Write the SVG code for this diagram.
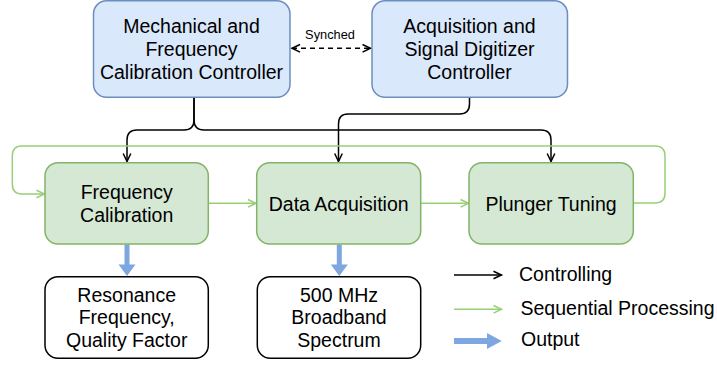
<svg xmlns="http://www.w3.org/2000/svg" width="717" height="367" viewBox="0 0 717 367">
<defs>
<style>
.t{font-family:"Liberation Sans",Arial,Helvetica,sans-serif;font-size:19.5px;fill:#000;text-anchor:middle}
.tl{font-family:"Liberation Sans",Arial,Helvetica,sans-serif;font-size:19.5px;fill:#000}
.blue{fill:#dae8fc;stroke:#6c8ebf;stroke-width:1.5}
.green{fill:#d5e8d4;stroke:#82b366;stroke-width:1.5}
.white{fill:#fff;stroke:#000;stroke-width:1.5}
.ctl{fill:none;stroke:#000;stroke-width:1.5}
.seq{fill:none;stroke:#97d077;stroke-width:1.5}
.out{fill:#7ea6e0;stroke:none}
</style>
<marker id="ab" markerUnits="userSpaceOnUse" markerWidth="14" markerHeight="14" viewBox="-11 -7 14 14" refX="0" refY="0" orient="auto-start-reverse" overflow="visible">
<path d="M-8,-3.8 L0,0 L-8,3.8" fill="none" stroke="#000" stroke-width="1.5"/>
</marker>
<marker id="ag" markerUnits="userSpaceOnUse" markerWidth="14" markerHeight="14" viewBox="-11 -7 14 14" refX="0" refY="0" orient="auto" overflow="visible">
<path d="M-8,-3.8 L0,0 L-8,3.8" fill="none" stroke="#97d077" stroke-width="1.5"/>
</marker>
</defs>

<g id="connectors">
<!-- synched -->
<line x1="292" y1="48.3" x2="370.5" y2="48.3" class="ctl" stroke-dasharray="5 4" marker-start="url(#ab)" marker-end="url(#ab)"/>
<text x="330" y="38.5" style="font-family:'Liberation Sans',Arial,sans-serif;font-size:12.8px;text-anchor:middle">Synched</text>
<!-- controlling -->
<path class="ctl" d="M194,97.5 V120 Q194,130 184,130 H137 Q127,130 127,140 V161.5" marker-end="url(#ab)"/>
<path class="ctl" d="M194,97.5 V120 Q194,130 204,130 H541 Q551,130 551,140 V161.5" marker-end="url(#ab)"/>
<path class="ctl" d="M469.5,97.5 V104 Q469.5,114 459.5,114 H348 Q338.5,114 338.5,124 V161.5" marker-end="url(#ab)"/>
<!-- sequential -->
<line class="seq" x1="208.5" y1="203.3" x2="256" y2="203.3" marker-end="url(#ag)"/>
<line class="seq" x1="421" y1="203.3" x2="468.5" y2="203.3" marker-end="url(#ag)"/>
<path class="seq" d="M633.5,203 H655 Q665,203 665,193 V156 Q665,146 655,146 H22 Q12.3,146 12.3,156 V184 Q12.3,194 22,194 H44.5" marker-end="url(#ag)"/>
<!-- outputs -->
<polygon class="out" points="124.5,244.5 129.5,244.5 129.5,264.5 135.5,264.5 127,276 118.5,264.5 124.5,264.5"/>
<polygon class="out" points="336.8,244.5 341.8,244.5 341.8,264.5 347.8,264.5 339.3,276 330.8,264.5 336.8,264.5"/>
</g>

<g id="node-mech">
<rect class="blue" x="93.5" y="0.8" width="196.5" height="96.5" rx="13" ry="13"/>
<text class="t" x="191.5" y="32.8">Mechanical and</text>
<text class="t" x="191.5" y="55.8">Frequency</text>
<text class="t" x="191.5" y="78.8">Calibration Controller</text>
</g>
<g id="node-acq">
<rect class="blue" x="372" y="0.8" width="195.5" height="96.5" rx="13" ry="13"/>
<text class="t" x="469.5" y="32.8">Acquisition and</text>
<text class="t" x="469.5" y="55.8">Signal Digitizer</text>
<text class="t" x="469.5" y="78.8">Controller</text>
</g>
<g id="node-fc">
<rect class="green" x="45" y="162.7" width="163.3" height="81.3" rx="13" ry="13"/>
<text class="t" x="126.7" y="199">Frequency</text>
<text class="t" x="126.7" y="222">Calibration</text>
</g>
<g id="node-da">
<rect class="green" x="256.7" y="162.7" width="164" height="81.3" rx="13" ry="13"/>
<text class="t" x="338.7" y="210.5">Data Acquisition</text>
</g>
<g id="node-pt">
<rect class="green" x="469" y="162.7" width="164.3" height="81.3" rx="13" ry="13"/>
<text class="t" x="551" y="210.5">Plunger Tuning</text>
</g>
<g id="node-res">
<rect class="white" x="45" y="276.7" width="163.3" height="81.6" rx="13" ry="13"/>
<text class="t" x="126.7" y="301.5">Resonance</text>
<text class="t" x="126.7" y="324.3">Frequency,</text>
<text class="t" x="126.7" y="347.3">Quality Factor</text>
</g>
<g id="node-spec">
<rect class="white" x="257.3" y="276.7" width="163.4" height="81.6" rx="13" ry="13"/>
<text class="t" x="339" y="301.5">500 MHz</text>
<text class="t" x="339" y="324.3">Broadband</text>
<text class="t" x="339" y="347.3">Spectrum</text>
</g>
<g id="legend">
<line class="ctl" x1="454" y1="275" x2="501.5" y2="275" marker-end="url(#ab)"/>
<text class="tl" x="519" y="281">Controlling</text>
<line class="seq" x1="454" y1="309.3" x2="501.5" y2="309.3" marker-end="url(#ag)"/>
<text class="tl" x="520.5" y="314.5">Sequential Processing</text>
<polygon class="out" points="454,338 487,338 487,333 501.7,341 487,349 487,344 454,344"/>
<text class="tl" x="521" y="345.5">Output</text>
</g>
</svg>
